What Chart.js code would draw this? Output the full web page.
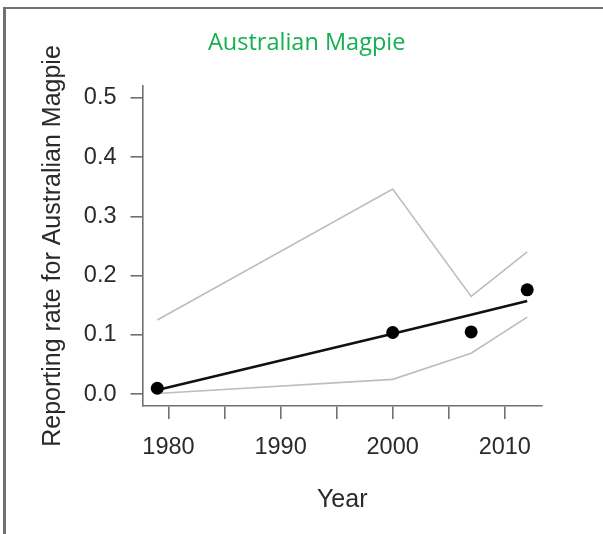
<!DOCTYPE html>
<html>
<head>
<meta charset="utf-8">
<script src="https://cdn.jsdelivr.net/npm/chart.js@4/dist/chart.umd.min.js"></script>
<style>
  html, body { margin: 0; padding: 0; background: #fff; }
  #wrap { position: relative; width: 603px; height: 534px; overflow: hidden; }
  #frame { position: absolute; left: 3px; top: 7px; width: 700px; height: 700px;
           border-top: 2px solid #727272; border-left: 3px solid #727272; }
  #c { position: absolute; left: 0; top: 0; }
</style>
</head>
<body>
<div id="wrap">
  <div id="frame"></div>
  <canvas id="c" width="603" height="534"></canvas>
</div>
<script>
// ---- data ----
const years    = [1979, 2000, 2007, 2012];
const observed = [0.010, 0.104, 0.105, 0.176];
const fitted   = [0.007, 0.102, 0.134, 0.157];
const upper    = [0.125, 0.346, 0.165, 0.240];
const lower    = [0.001, 0.025, 0.069, 0.130];
const xTicks   = [1980, 1985, 1990, 1995, 2000, 2005, 2010];
const xLabels  = [1980, 1990, 2000, 2010];
const yTicks   = [0, 0.1, 0.2, 0.3, 0.4, 0.5];
const titleText  = 'Australian Magpie';
const xTitleText = 'Year';
const yTitleText = 'Reporting rate for Australian Magpie';

const pts = arr => years.map((y, i) => ({ x: y, y: arr[i] }));
const axisColor = '#707070';
const textColor = '#2a2a2a';
const sans = "'Liberation Sans', Arial, Helvetica, sans-serif";

new Chart(document.getElementById('c'), {
  type: 'scatter',
  data: {
    datasets: [
      { label: 'Observed', data: pts(observed), pointRadius: 6.5, pointHoverRadius: 6.5,
        backgroundColor: '#000', borderColor: '#000', borderWidth: 0, showLine: false },
      { label: 'Fitted', data: pts(fitted), showLine: true, pointRadius: 0,
        borderColor: '#111', borderWidth: 2.6, tension: 0 },
      { label: 'Upper', data: pts(upper), showLine: true, pointRadius: 0,
        borderColor: '#bdbdbd', borderWidth: 1.6, tension: 0 },
      { label: 'Lower', data: pts(lower), showLine: true, pointRadius: 0,
        borderColor: '#bdbdbd', borderWidth: 1.6, tension: 0 }
    ]
  },
  options: {
    responsive: false,
    animation: false,
    layout: { padding: { left: 10.4, right: 0, top: 0, bottom: 0 } },
    plugins: {
      legend: { display: false },
      tooltip: { enabled: false },
      title: {
        display: true, text: titleText, color: '#14b050',
        font: { family: "'Open Sans', sans-serif", size: 23.5, weight: 'normal', lineHeight: 1.2 },
        padding: { top: 29.5, bottom: 28.3 }
      }
    },
    scales: {
      x: {
        type: 'linear', position: 'bottom', min: 1977.68, max: 2013.32,
        afterBuildTicks: s => { s.ticks = xTicks.map(v => ({ value: v })); },
        afterFit: s => { s.height = 128; },
        ticks: {
          autoSkip: false, maxRotation: 0, padding: 14, color: textColor,
          font: { family: sans, size: 23.5 },
          callback: v => xLabels.includes(v) ? String(v) : ''
        },
        grid: { display: true, drawOnChartArea: false, drawTicks: true, tickLength: 13,
                color: axisColor, lineWidth: 1.6 },
        border: { display: true, color: axisColor, width: 1.6 },
        title: { display: true, text: xTitleText, color: textColor,
                 font: { family: sans, size: 25 }, padding: { top: 0, bottom: 18.4 } }
      },
      y: {
        type: 'linear', position: 'left', min: -0.02, max: 0.52,
        afterBuildTicks: s => { s.ticks = yTicks.map(v => ({ value: v })); },
        afterFit: s => { s.width = 132.1; },
        ticks: {
          padding: 14, color: textColor, font: { family: sans, size: 23.5 },
          callback: v => v.toFixed(1)
        },
        grid: { display: true, drawOnChartArea: false, drawTicks: true, tickLength: 12,
                color: axisColor, lineWidth: 1.6 },
        border: { display: true, color: axisColor, width: 1.6 },
        title: { display: true, text: yTitleText, color: textColor,
                 font: { family: sans, size: 25 }, padding: { top: 27.6, bottom: 0 } }
      },
      spacer: {
        type: 'linear', position: 'right', display: true,
        afterFit: s => { s.width = 61; },
        ticks: { display: false },
        grid: { display: false },
        border: { display: false }
      }
    }
  }
});
</script>
</body>
</html>
